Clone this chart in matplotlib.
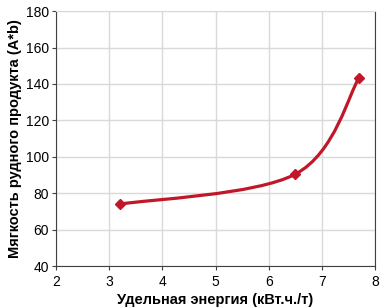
import matplotlib
matplotlib.use("Agg")
import matplotlib.pyplot as plt
from matplotlib.path import Path
from matplotlib.patches import PathPatch

# specific energy vs ore product softness
energy = [3.2, 6.5, 7.7]
softness = [74, 90.5, 143.5]

x_ticks = [2, 3, 4, 5, 6, 7, 8]
y_ticks = [40, 60, 80, 100, 120, 140, 160, 180]

red = "#C0182A"

plt.rcParams['font.family'] = ['Liberation Sans', 'DejaVu Sans']

fig = plt.figure(figsize=(3.84, 3.08), dpi=100)
ax = fig.add_axes([0.146, 0.136, 0.831, 0.828])

# smoothed line like Excel: cubic Bezier segments between the points
pts = list(zip(energy, softness))
verts = [pts[0]]
codes = [Path.MOVETO]
n = len(pts)
for i in range(n - 1):
    p0 = pts[max(i - 1, 0)]
    p1 = pts[i]
    p2 = pts[i + 1]
    p3 = pts[min(i + 2, n - 1)]
    c1 = (p1[0] + (p2[0] - p0[0]) / 6, p1[1] + (p2[1] - p0[1]) / 6)
    c2 = (p2[0] - (p3[0] - p1[0]) / 6, p2[1] - (p3[1] - p1[1]) / 6)
    verts += [c1, c2, p2]
    codes += [Path.CURVE4] * 3
ax.add_patch(PathPatch(Path(verts, codes), facecolor="none", edgecolor=red,
                       lw=2.3, zorder=3, capstyle="round"))
ax.plot(energy, softness, ls="none", marker="D", ms=5.5, color=red, zorder=4)

ax.set_xlim(2, 8)
ax.set_ylim(40, 180)
ax.set_xticks(x_ticks)
ax.set_yticks(y_ticks)
ax.grid(True, color="#D9D9D9", lw=1)
ax.set_axisbelow(True)
for s in ["left", "bottom", "right"]:
    ax.spines[s].set_color("#404040")
ax.spines["top"].set_color("#D9D9D9")
ax.tick_params(labelsize=10, length=3, color="#404040", direction="out")
ax.tick_params(axis="y", pad=2)
ax.tick_params(right=False)

ax.set_xlabel("Удельная энергия (кВт.ч./т)", fontsize=10.5, fontweight="bold", labelpad=3)
ax.set_ylabel("Мягкость рудного продукта (A*b)", fontsize=10.5, fontweight="bold", labelpad=3)

fig.savefig("out.png", dpi=100)
